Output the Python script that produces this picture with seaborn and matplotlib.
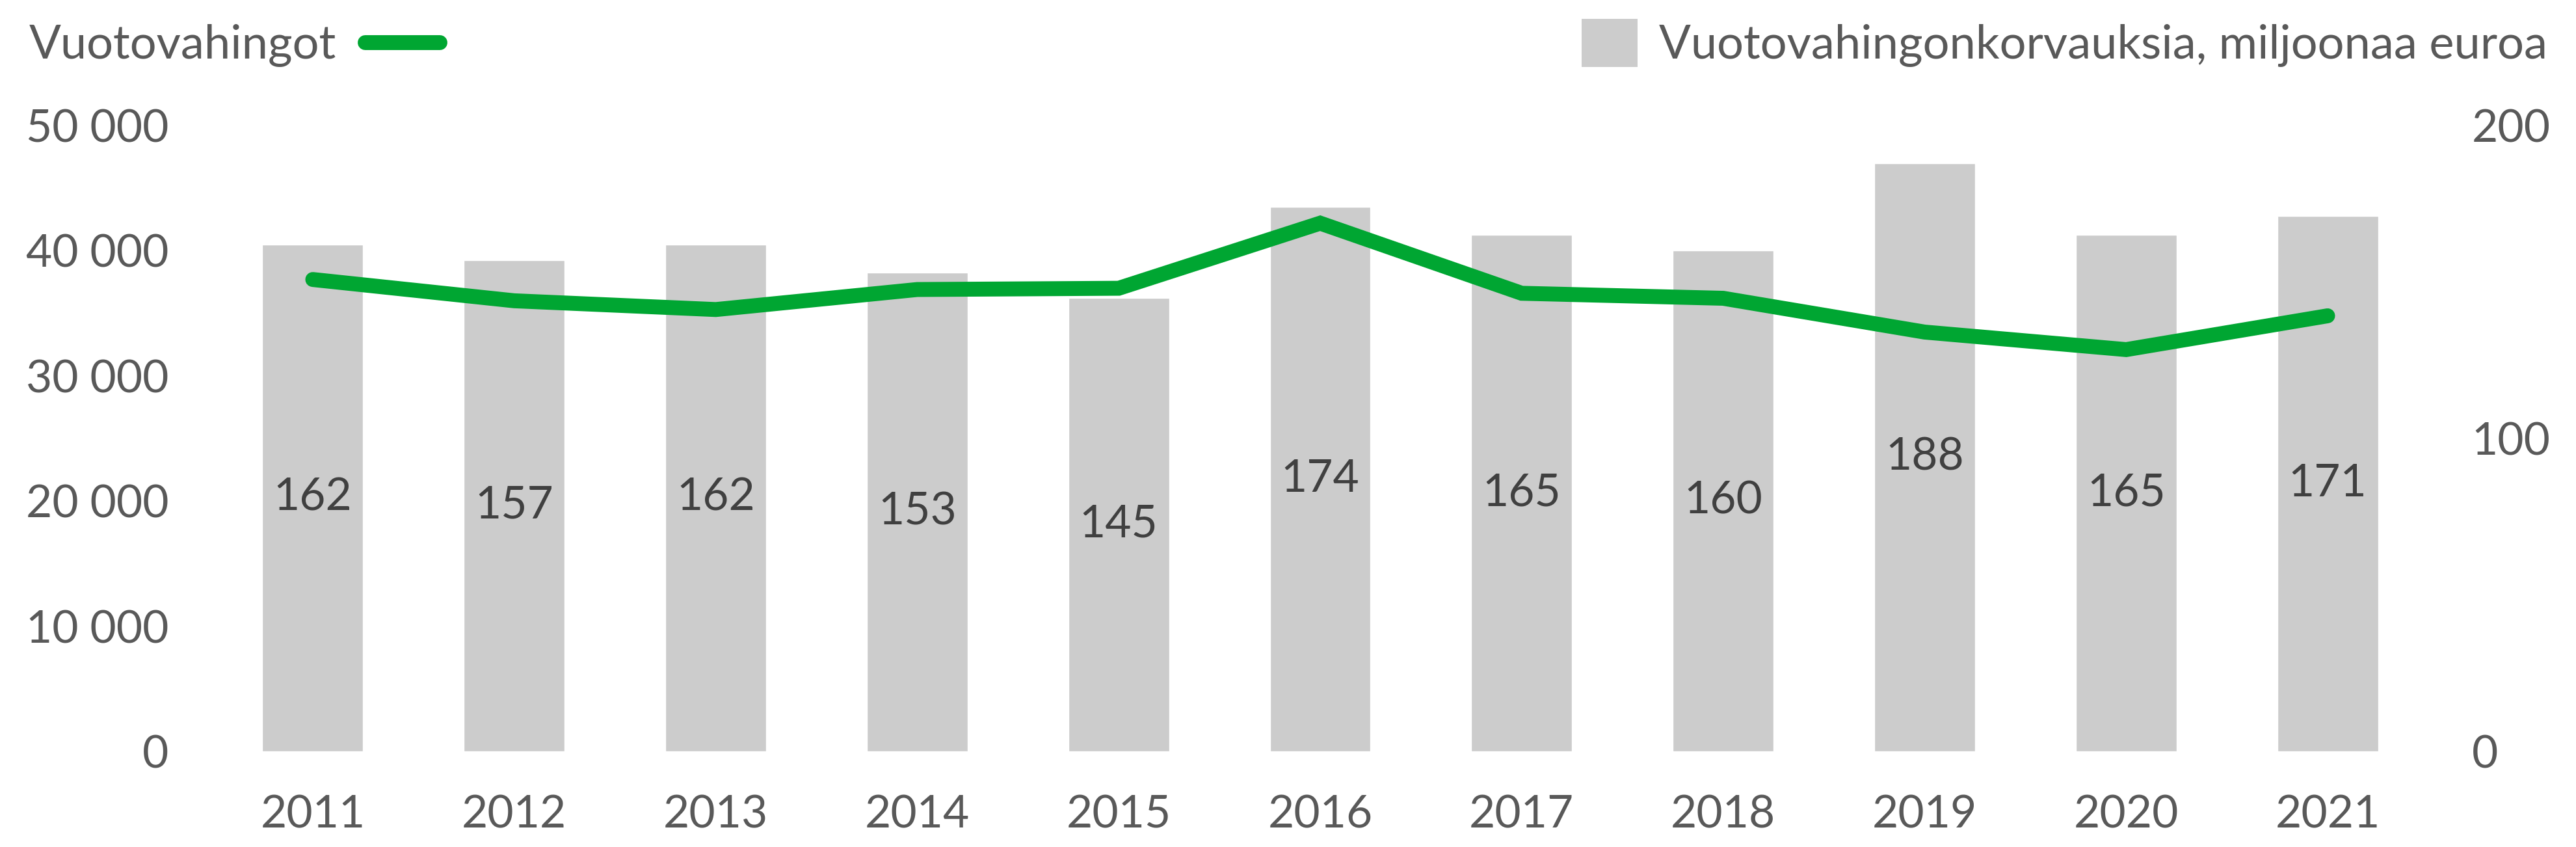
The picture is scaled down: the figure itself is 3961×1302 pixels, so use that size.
import matplotlib
matplotlib.use("Agg")
import matplotlib.pyplot as plt
from matplotlib.lines import Line2D
from matplotlib.patches import Patch
from matplotlib.ticker import FuncFormatter
import numpy as np
import pandas as pd
import seaborn as sns

# ---- data ----
years = ["2011", "2012", "2013", "2014", "2015", "2016", "2017", "2018", "2019", "2020", "2021"]
claims_meur = [162, 157, 162, 153, 145, 174, 165, 160, 188, 165, 171]
damages = [37700, 36000, 35300, 36900, 37000, 42200, 36600, 36200, 33500, 32100, 34800]
left_ticks = [0, 10000, 20000, 30000, 40000, 50000]
right_ticks = [0, 100, 200]
line_label = "Vuotovahingot"
bar_label = "Vuotovahingonkorvauksia, miljoonaa euroa"

GREEN = "#00a632"
BAR = "#cccccc"
TXT = "#595959"
VAL = "#404040"

sns.set_theme(style="white")
plt.rcParams["font.family"] = ["Lato", "DejaVu Sans"]

W, H = 3962, 1302
DPI = 100
fig = plt.figure(figsize=(W / DPI, H / DPI), dpi=DPI)
ax = fig.add_axes([326 / W, 1 - 1155 / H, (3734 - 326) / W, (1155 - 193) / H])

df = pd.DataFrame({"year": years, "claims": claims_meur, "damages": damages})

# bars on primary axis (right-hand scale)
sns.barplot(data=df, x="year", y="claims", color=BAR, width=0.5, saturation=1, ax=ax)
ax.set_ylim(0, 200)
ax.set_yticks(right_ticks)
ax.set_xlim(-0.5, len(years) - 0.5)
ax.bar_label(ax.containers[0], labels=[str(v) for v in claims_meur], label_type="center",
             fontsize=50, color=VAL)

# line on twin axis (left-hand scale)
ax2 = ax.twinx()
sns.lineplot(x=np.arange(len(years)), y=damages, color=GREEN, linewidth=16.5, ax=ax2,
             legend=False, solid_capstyle="round", solid_joinstyle="miter")
ax2.set_ylim(0, 50000)
ax2.set_yticks(left_ticks)
ax2.yaxis.set_major_formatter(FuncFormatter(lambda v, p: f"{int(v):,}".replace(",", " ")))
ax2.set_xlim(-0.5, len(years) - 0.5)

# swap sides: bars scale on right, line scale on left
ax.yaxis.tick_right()
ax2.yaxis.tick_left()

for a in (ax, ax2):
    for s in a.spines.values():
        s.set_visible(False)
    a.set_xlabel("")
    a.set_ylabel("")
    a.grid(False)
    a.tick_params(axis="both", length=0, labelsize=50, labelcolor=TXT)

ax.tick_params(axis="x", pad=48)
ax.tick_params(axis="y", pad=48)
ax2.tick_params(axis="y", pad=48)

# legends
h1 = Line2D([], [], color=GREEN, linewidth=16.5, solid_capstyle="round")
leg1 = fig.legend(handles=[h1], labels=[line_label], loc="center left",
                  bbox_to_anchor=(45 / W, 1 - 70 / H), frameon=False, markerfirst=False,
                  handlelength=1.6, handletextpad=0.6, borderpad=0, borderaxespad=0,
                  fontsize=52, labelcolor=TXT)
h2 = Patch(facecolor=BAR, edgecolor="none")
leg2 = fig.legend(handles=[h2], labels=[bar_label], loc="center right",
                  bbox_to_anchor=(3917 / W, 1 - 66 / H), frameon=False,
                  handlelength=1.2, handleheight=1.2, handletextpad=0.45,
                  borderpad=0, borderaxespad=0, fontsize=52, labelcolor=TXT)

fig.savefig("out.png", dpi=DPI, facecolor="white")
